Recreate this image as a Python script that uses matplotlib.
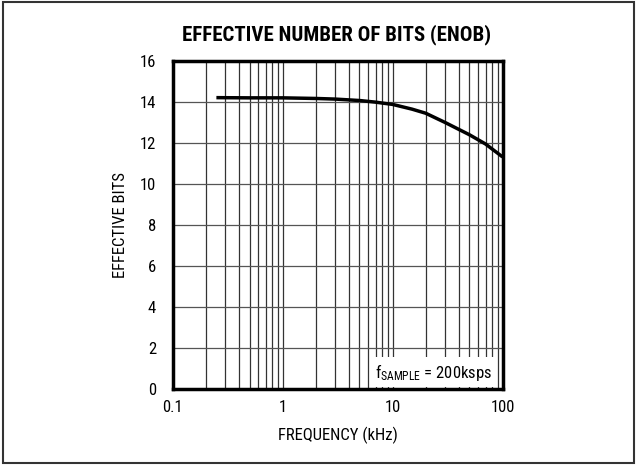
import matplotlib
matplotlib.use("Agg")
import matplotlib.pyplot as plt
from matplotlib.patches import Rectangle
from matplotlib.ticker import FixedLocator, NullFormatter

FONT = ["Roboto Condensed", "PT Sans Narrow", "DejaVu Sans"]
plt.rcParams["font.family"] = FONT
plt.rcParams["mathtext.fontset"] = "custom"
plt.rcParams["mathtext.rm"] = "Roboto Condensed"
plt.rcParams["mathtext.it"] = "Roboto Condensed"

# Data
freq_khz = [0.25, 0.5, 1, 2, 3, 5, 7, 10, 15, 20, 30, 50, 70, 100]
enob_bits = [14.21, 14.2, 14.2, 14.17, 14.14, 14.07, 13.99, 13.88, 13.65, 13.45, 13.0, 12.4, 11.95, 11.32]

x_ticks = [0.1, 1, 10, 100]
x_tick_labels = ["0.1", "1", "10", "100"]
y_ticks = [0, 2, 4, 6, 8, 10, 12, 14, 16]
x_minor = [m * d for d in (0.1, 1, 10) for m in range(2, 10)]

fig = plt.figure(figsize=(6.37, 4.65), dpi=100)
ax = fig.add_axes([0.271, 0.163, 0.518, 0.706])

ax.set_xscale("log")
ax.set_xlim(0.1, 100)
ax.set_ylim(0, 16)
ax.xaxis.set_major_locator(FixedLocator(x_ticks))
ax.xaxis.set_minor_locator(FixedLocator(x_minor))
ax.xaxis.set_minor_formatter(NullFormatter())
ax.set_xticks(x_ticks)
ax.set_xticklabels(x_tick_labels)
ax.set_yticks(y_ticks)

ax.grid(True, which="both", axis="x", color="#333333", linewidth=0.9)
ax.grid(True, which="major", axis="y", color="#555555", linewidth=0.9)
ax.tick_params(which="both", length=0, labelsize=12, pad=8)
ax.tick_params(axis="y", pad=12)

for s in ax.spines.values():
    s.set_linewidth(2.5)
    s.set_color("black")

ax.plot(freq_khz, enob_bits, color="black", linewidth=2.5, solid_capstyle="butt", zorder=4)

ax.set_xlabel("FREQUENCY (kHz)", fontsize=12, labelpad=8)
ax.set_ylabel("EFFECTIVE BITS", fontsize=12, labelpad=8)

fig.text(0.529, 0.925, "EFFECTIVE NUMBER OF BITS (ENOB)", ha="center", va="center",
         fontsize=15, fontweight="bold")

ax.text(0.968, 0.052, r"f$_{\mathrm{SAMPLE}}$ = 200ksps", transform=ax.transAxes,
        ha="right", va="center", fontsize=12, zorder=3,
        bbox=dict(facecolor="white", edgecolor="none", pad=3))

fig.patches.append(Rectangle((0.005, 0.005), 0.99, 0.99, transform=fig.transFigure,
                             fill=False, edgecolor="#333333", linewidth=1.5))

fig.savefig("out.png", dpi=100)
